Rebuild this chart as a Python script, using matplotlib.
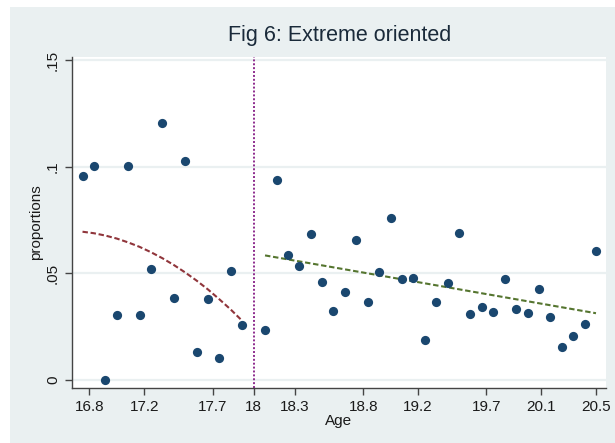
import numpy as np
import matplotlib
matplotlib.use("Agg")
import matplotlib.pyplot as plt
from matplotlib.patches import Rectangle

plt.rcParams['font.family'] = ['Liberation Sans', 'DejaVu Sans']

# ---- data (monthly age bins) ----
age_left = [16.75, 16.833, 16.917, 17.0, 17.083, 17.167, 17.25, 17.333,
            17.417, 17.5, 17.583, 17.667, 17.75, 17.833, 17.917]
prop_left = [0.0956, 0.1003, 0.0000, 0.0305, 0.1003, 0.0305, 0.0520, 0.1203,
             0.0386, 0.1028, 0.0130, 0.0381, 0.0103, 0.0512, 0.0259]
fit_left = [0.0695, 0.0688, 0.0677, 0.0663, 0.0645, 0.0624, 0.0599, 0.0571,
            0.0539, 0.0504, 0.0466, 0.0424, 0.0378, 0.0330, 0.0277]

age_right = [18.083, 18.167, 18.25, 18.333, 18.417, 18.5, 18.583, 18.667,
             18.75, 18.833, 18.917, 19.0, 19.083, 19.167, 19.25, 19.333,
             19.417, 19.5, 19.583, 19.667, 19.75, 19.833, 19.917, 20.0,
             20.083, 20.167, 20.25, 20.333, 20.417, 20.5]
prop_right = [0.0234, 0.0939, 0.0586, 0.0534, 0.0686, 0.0459, 0.0323, 0.0414,
              0.0656, 0.0366, 0.0506, 0.0761, 0.0475, 0.0477, 0.0188, 0.0364,
              0.0455, 0.0689, 0.0311, 0.0344, 0.0317, 0.0473, 0.0334, 0.0314,
              0.0425, 0.0295, 0.0153, 0.0206, 0.0264, 0.0603]
fit_right_age = [18.083, 20.5]
fit_right = [0.0584, 0.0313]

cutoff = 18
x_ticks = [16.8, 17.2, 17.7, 18, 18.3, 18.8, 19.2, 19.7, 20.1, 20.5]
x_ticklabels = ["16.8", "17.2", "17.7", "18", "18.3", "18.8", "19.2", "19.7", "20.1", "20.5"]
y_ticks = [0, 0.05, 0.10, 0.15]
y_ticklabels = ["0", ".05", ".1", ".15"]

# ---- style ----
BG = "#EAF0F1"
NAVY = "#1A476F"
MAROON = "#90353B"
GREEN = "#55752F"
PURPLE = "#8E2C8E"
TXT = "#1a1a1a"

W, H = 615, 443
fig = plt.figure(figsize=(W / 100, H / 100), dpi=100, facecolor="white")
bgrect = Rectangle((10 / W, 0), 1 - 10 / W, 1 - 7 / H,
                   transform=fig.transFigure, facecolor=BG,
                   edgecolor="none", zorder=-10)
fig.patches.append(bgrect)

ax = fig.add_axes([71.7 / W, 1 - 388 / H, (605.7 - 71.7) / W, (388 - 57) / H])
ax.set_zorder(1)
ax.set_facecolor("white")
ax.set_xlim(16.671, 20.571)
ax.set_ylim(-0.00375, 0.1514)

for yv in y_ticks:
    ax.axhline(yv, color=BG, lw=1.6, zorder=1)

ax.plot(age_left, fit_left, color=MAROON, lw=1.5, ls=(0, (2.6, 1.3)), zorder=3)
ax.plot(fit_right_age, fit_right, color=GREEN, lw=1.5, ls=(0, (2.6, 1.3)), zorder=3)
ax.scatter(age_left, prop_left, s=44, color=NAVY, zorder=4, linewidths=0)
ax.scatter(age_right, prop_right, s=44, color=NAVY, zorder=4, linewidths=0)
ax.axvline(cutoff, color=PURPLE, lw=1.4, ls=(0, (1, 1)), zorder=2)

for s in ["top", "right"]:
    ax.spines[s].set_visible(False)
for s in ["left", "bottom"]:
    ax.spines[s].set_color("#444444")
    ax.spines[s].set_linewidth(1.0)

ax.set_xticks(x_ticks)
ax.set_xticklabels(x_ticklabels)
ax.set_yticks(y_ticks)
ax.set_yticklabels(y_ticklabels, rotation=90, va="center")
ax.tick_params(axis="both", direction="out", length=5, width=1.0,
               color="#444444", labelsize=11, labelcolor=TXT, pad=3.5)

ax.set_xlabel("Age", fontsize=11, color=TXT, labelpad=0)
ax.set_ylabel("proportions", fontsize=11, color=TXT, labelpad=2)

fig.text(340 / W, 1 - 35 / H, "Fig 6: Extreme oriented", ha="center",
         va="center", fontsize=15.5, color="#1a2a3a")

fig.savefig("out.png", dpi=100, facecolor=fig.get_facecolor())
